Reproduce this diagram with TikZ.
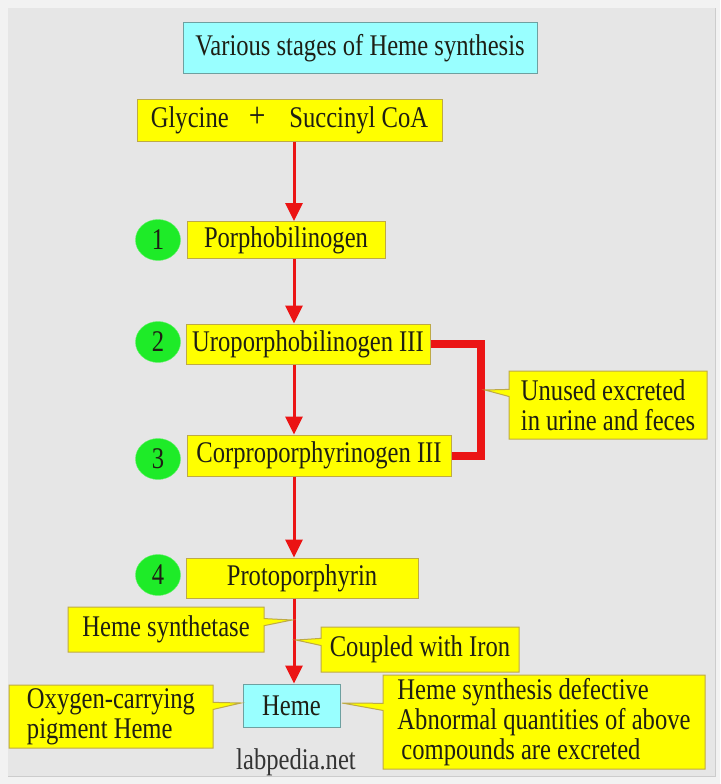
\documentclass[tikz,border=0pt]{standalone}
\usepackage{fontspec}
\setmainfont{Liberation Serif}[FakeStretch=0.82]
\usepackage{xcolor}
\usetikzlibrary{arrows.meta,shapes.geometric,shapes.callouts}

\definecolor{panel}{RGB}{230,230,230}
\definecolor{boxyellow}{RGB}{255,255,0}
\definecolor{boxline}{RGB}{190,170,70}
\definecolor{boxcyan}{RGB}{153,255,255}
\definecolor{cyanline}{RGB}{110,160,160}
\definecolor{stepgreen}{RGB}{30,235,40}
\definecolor{flowred}{RGB}{235,20,20}
\definecolor{ink}{RGB}{30,30,20}

\tikzset{
  every node/.style={font=\fontsize{30}{30}\selectfont, text=ink},
  stage/.style={draw=boxline, fill=boxyellow, line width=1pt, inner sep=0pt},
  endbox/.style={draw=cyanline, fill=boxcyan, line width=1pt, inner sep=0pt},
  num/.style={ellipse, fill=stepgreen, draw=stepgreen!70!white, minimum width=45pt, minimum height=41pt, inner sep=0pt},
  note/.style={rectangle callout, draw=boxline, fill=boxyellow, line width=1pt, inner sep=0pt, align=left},
  flow/.style={draw=flowred, line width=3pt, -{Triangle[width=17pt,length=18pt]}}
}

\begin{document}
\begin{tikzpicture}[x=1pt,y=-1pt]
\useasboundingbox (0,0) rectangle (720,784);
% Background
\fill[white!95!black] (0,0) rectangle (720,784);
\fill[panel] (8,8) rectangle (715,776);
\draw[black!20, line width=0.8pt] (8,776) -- (715,776) -- (715,8);
% Title
\node[endbox, minimum width=354pt, minimum height=50pt] (title) at (360,48) {Various stages of Heme synthesis};
% Stages
\node[stage, minimum width=305pt, minimum height=42pt] (glycine) at (289.5,120)
  {Glycine\hspace{20pt}{\fontsize{36}{36}\selectfont +}\hspace{24pt}Succinyl CoA};
\node[stage, minimum width=198pt, minimum height=37pt] (porpho) at (286,240) {Porphobilinogen};
\node[stage, minimum width=244pt, minimum height=40pt] (uro) at (308,344) {Uroporphobilinogen III};
\node[stage, minimum width=264pt, minimum height=41pt] (corr) at (319,455.5) {Corproporphyrinogen III};
\node[stage, minimum width=232pt, minimum height=40pt] (proto) at (302,578) {Protoporphyrin};
\node[endbox, minimum width=97pt, minimum height=43pt] (heme) at (291.5,705.5) {Heme};
% Step numbers
\foreach \n/\y in {1/240, 2/342, 3/459, 4/575}{
  \node[num] (n\n) at (158,\y) {\n};
}
% Main arrows
\coordinate (axis) at (294,0);
\foreach \a/\b in {glycine/porpho, porpho/uro, uro/corr, corr/proto, proto/heme}{
  \draw[flow] (\a.south -| axis) -- (\b.north -| axis);
}
% Bracket
\coordinate (bend) at (481,0);
\draw[flowred, line width=8pt, line join=miter] (uro.east) -- (uro.east -| bend) -- (corr.east -| bend) -- (corr.east);
% Callouts
\node[note, minimum width=198pt, minimum height=68pt, callout absolute pointer={(485,390)}] (unused) at (608,405)
  {Unused excreted\\in urine and feces};
\node[note, minimum width=196pt, minimum height=45pt, callout absolute pointer={(292,620)}] (synthetase) at (166,629.5) {Heme synthetase};
\node[note, minimum width=198pt, minimum height=45pt, callout absolute pointer={(296,640)}] (iron) at (420,649.5) {Coupled with Iron};
\node[note, minimum width=204pt, minimum height=63pt, callout absolute pointer={(241,703)}] (oxygen) at (111,716.5)
  {Oxygen-carrying\\pigment Heme};
\node[note, minimum width=322pt, minimum height=94pt, callout absolute pointer={(342,703)}] (defect) at (544,722)
  {Heme synthesis defective\\Abnormal quantities of above\\\hspace*{4pt}compounds are excreted};
% Credit
\node[text=black!80] (site) at (296,762) {labpedia.net};
\end{tikzpicture}
\end{document}
